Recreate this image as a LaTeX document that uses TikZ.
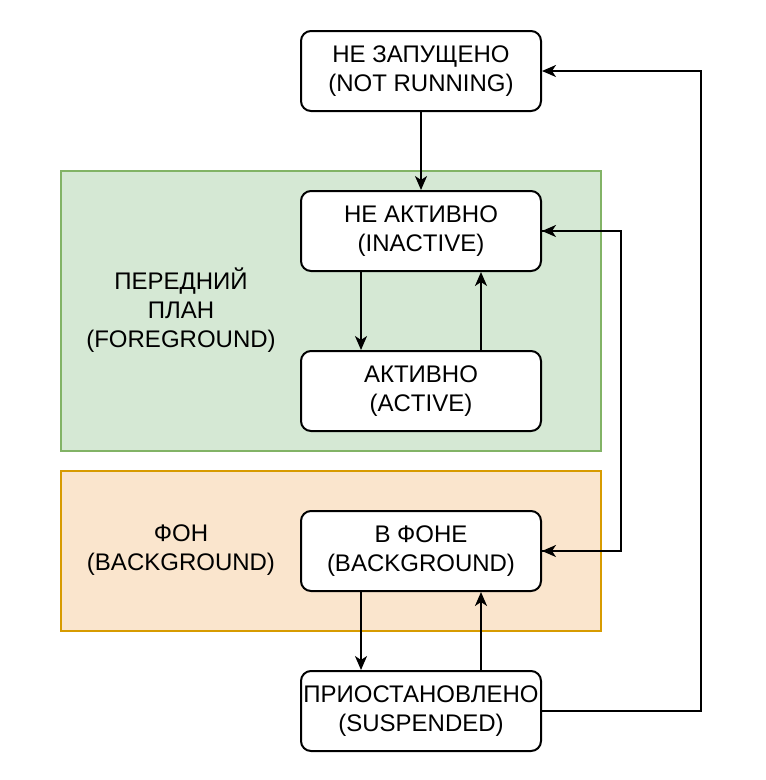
\documentclass[tikz,border=0pt]{standalone}
\usepackage{fontspec}
\setmainfont{Liberation Sans}
\usetikzlibrary{arrows.meta}
\definecolor{gfill}{HTML}{D5E8D4}
\definecolor{gline}{HTML}{82B366}
\definecolor{ofill}{HTML}{FAE5CD}
\definecolor{oline}{HTML}{D79B00}
\tikzset{
  state/.style={draw=black, line width=2pt, fill=white, rounded corners=10pt,
    minimum width=240pt, minimum height=80pt, inner sep=0pt, align=center,
    font=\fontsize{24}{29}\selectfont},
  region/.style={line width=2pt},
  lbl/.style={align=center, font=\fontsize{24}{29}\selectfont},
  conn/.style={line width=2pt, -{Stealth[length=14pt,width=12pt,inset=4pt]}},
}
\begin{document}
\begin{tikzpicture}[x=1pt,y=-1pt]
\useasboundingbox (0,0) rectangle (766,780);
\fill[white] (0,0) rectangle (766,780);
\draw[region, fill=gfill, draw=gline] (61,171) rectangle (601,451);
\draw[region, fill=ofill, draw=oline] (61,471) rectangle (601,631);
\node[lbl] (fg) at (181,310) {ПЕРЕДНИЙ\\ПЛАН\\(FOREGROUND)};
\node[lbl] (bgl) at (181,550) {ФОН\\(BACKGROUND)};
\node[state] (nr) at (421,71) {НЕ ЗАПУЩЕНО\\(NOT RUNNING)};
\node[state] (in) at (421,231) {НЕ АКТИВНО\\(INACTIVE)};
\node[state] (ac) at (421,391) {АКТИВНО\\(ACTIVE)};
\node[state] (bg) at (421,551) {В ФОНЕ\\(BACKGROUND)};
\node[state] (su) at (421,711) {ПРИОСТАНОВЛЕНО\\(SUSPENDED)};
\coordinate (r1) at (621,0);
\coordinate (r2) at (701,0);
\draw[conn] (nr.south) -- (in.north);
\draw[conn] ([xshift=-60pt]in.south) -- ([xshift=-60pt]ac.north);
\draw[conn] ([xshift=60pt]ac.north) -- ([xshift=60pt]in.south);
\draw[conn] ([xshift=-60pt]bg.south) -- ([xshift=-60pt]su.north);
\draw[conn] ([xshift=60pt]su.north) -- ([xshift=60pt]bg.south);
\draw[conn] (bg.east) -- (bg.east -| r1) -- (in.east -| r1) -- (in.east);
\draw[conn] (in.east) -- (in.east -| r1) -- (bg.east -| r1) -- (bg.east);
\draw[conn] (su.east) -- (su.east -| r2) -- (nr.east -| r2) -- (nr.east);
\end{tikzpicture}
\end{document}
